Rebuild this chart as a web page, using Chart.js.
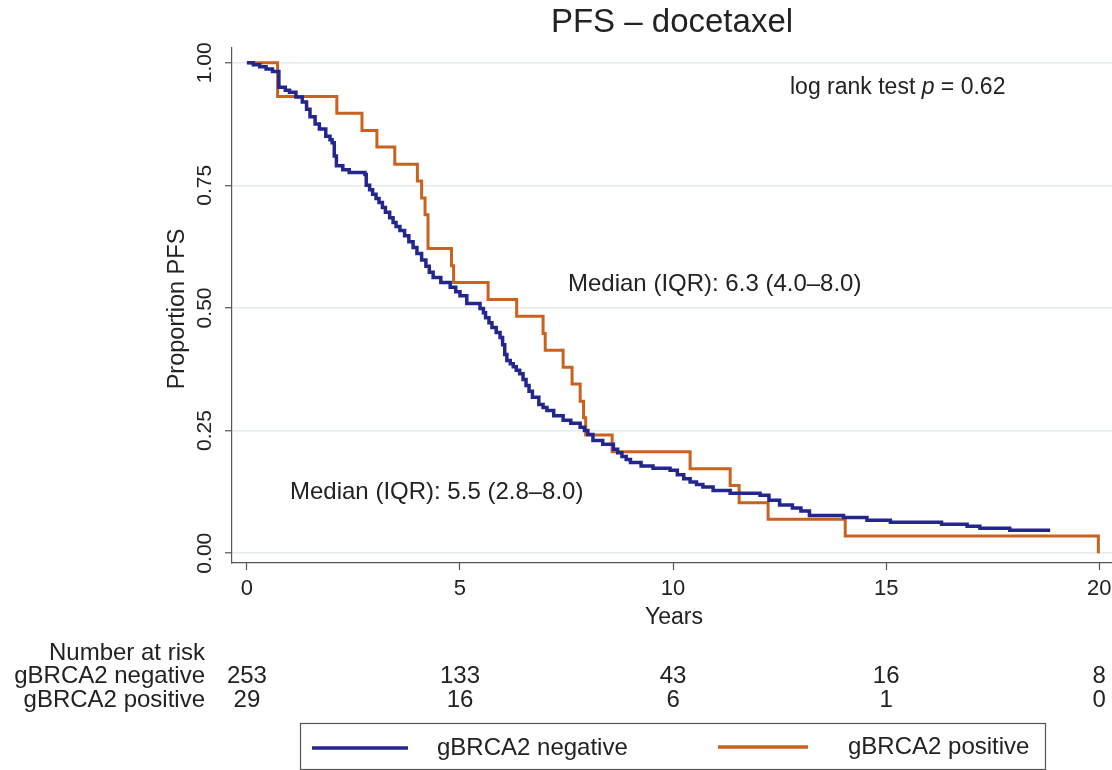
<!DOCTYPE html>
<html lang="en">
<head>
<meta charset="UTF-8">
<title>PFS - docetaxel</title>
<script src="https://cdn.jsdelivr.net/npm/chart.js@4"></script>
<style>
  html, body { margin: 0; padding: 0; background: #fff; }
  canvas { display: block; }
</style>
</head>
<body>
<canvas id="km" width="1112" height="770"></canvas>
<script>
// Kaplan-Meier steps (years, proportion free of progression)
const negYears = [0, 0.15, 0.3, 0.45, 0.6, 0.75, 0.9, 1.0, 1.15, 1.3, 1.4, 1.48, 1.6, 1.7, 1.85, 1.95, 2.0, 2.05, 2.1, 2.25, 2.4, 2.77, 2.8, 2.88, 2.95,
  3.03, 3.1, 3.18, 3.25, 3.35, 3.43, 3.5, 3.59, 3.7, 3.8, 3.9, 3.99, 4.1, 4.2, 4.28, 4.37, 4.55, 4.77, 4.9, 5.0, 5.16, 5.47, 5.55, 5.6, 5.68, 5.75,
  5.85, 5.94, 6.0, 6.05, 6.1, 6.18, 6.25, 6.32, 6.4, 6.48, 6.55, 6.62, 6.7, 6.85, 6.95, 7.04, 7.2, 7.42, 7.6, 7.82, 7.92, 8.0, 8.12, 8.35, 8.6,
  8.7, 8.8, 8.9, 9.0, 9.25, 9.53, 9.93, 10.1, 10.25, 10.4, 10.55, 10.7, 10.94, 11.34, 12.04, 12.25, 12.5, 12.8, 13.0, 13.2, 14.0, 14.55, 15.1,
  16.3, 16.9, 17.2, 17.9, 18.85];
const negPFS = [1.0, 0.996, 0.992, 0.987, 0.982, 0.95, 0.944, 0.94, 0.93, 0.92, 0.905, 0.89, 0.875, 0.865, 0.85, 0.843, 0.837, 0.81, 0.79, 0.782, 0.776, 0.772, 0.75, 0.741, 0.732,
  0.723, 0.715, 0.705, 0.695, 0.684, 0.674, 0.666, 0.658, 0.647, 0.635, 0.623, 0.611, 0.598, 0.585, 0.573, 0.562, 0.552, 0.542, 0.533, 0.525, 0.509, 0.499, 0.49, 0.48, 0.47, 0.46,
  0.45, 0.44, 0.425, 0.405, 0.393, 0.386, 0.38, 0.373, 0.366, 0.354, 0.342, 0.33, 0.318, 0.303, 0.297, 0.291, 0.28, 0.271, 0.265, 0.257, 0.25, 0.242, 0.23, 0.222, 0.212,
  0.205, 0.197, 0.191, 0.185, 0.178, 0.173, 0.169, 0.16, 0.152, 0.145, 0.14, 0.135, 0.128, 0.122, 0.118, 0.108, 0.098, 0.092, 0.086, 0.077, 0.073, 0.067, 0.063,
  0.059, 0.055, 0.051, 0.047, 0.047];

const posYears = [0, 0.72, 2.11, 2.7, 3.05, 3.47, 4.0, 4.1, 4.18, 4.25, 4.8, 4.85, 5.66, 6.33, 6.95, 7.0, 7.42, 7.63,
  7.82, 7.9, 7.95, 8.57, 10.4, 11.34, 11.55, 12.23, 14.04, 19.98];
const posPFS = [1.0, 0.931, 0.897, 0.862, 0.828, 0.793, 0.759, 0.724, 0.690, 0.621, 0.586, 0.552, 0.517, 0.483, 0.448, 0.414, 0.379, 0.345,
  0.310, 0.276, 0.241, 0.207, 0.172, 0.138, 0.103, 0.069, 0.035, 0.0];

const xTicks = [0, 5, 10, 15, 20];
const yTicks = [0, 0.25, 0.5, 0.75, 1];
const yTickLabels = ['0.00', '0.25', '0.50', '0.75', '1.00'];

const groups = ['gBRCA2 negative', 'gBRCA2 positive'];
const riskNeg = [253, 133, 43, 16, 8];
const riskPos = [29, 16, 6, 1, 0];

const BLUE = '#23268f';
const ORANGE = '#c8621e';
const FONT = '"Liberation Sans", Arial, sans-serif';

const toPoints = (xs, ys) => xs.map((t, i) => ({ x: t, y: ys[i] }));

const annotate = {
  id: 'annotate',
  afterDraw(chart) {
    const { ctx, scales: { x, y } } = chart;
    ctx.save();
    ctx.fillStyle = '#222';

    // title
    ctx.font = '33px ' + FONT;
    ctx.textAlign = 'center';
    ctx.textBaseline = 'middle';
    ctx.fillText('PFS \u2013 docetaxel', 672, 23);

    // y tick labels, rotated
    ctx.font = '21px ' + FONT;
    yTicks.forEach((v, i) => {
      ctx.save();
      ctx.translate(205, y.getPixelForValue(v));
      ctx.rotate(-Math.PI / 2);
      ctx.fillText(yTickLabels[i], 0, 0);
      ctx.restore();
    });

    // y title
    ctx.save();
    ctx.font = '23.5px ' + FONT;
    ctx.translate(178, 309);
    ctx.rotate(-Math.PI / 2);
    ctx.fillText('Proportion PFS', 0, 0);
    ctx.restore();

    // x tick labels + title
    ctx.font = '22px ' + FONT;
    xTicks.forEach(t => ctx.fillText(String(t), x.getPixelForValue(t), 589));
    ctx.font = '23px ' + FONT;
    ctx.fillText('Years', 674, 618);

    // annotations
    ctx.textAlign = 'left';
    ctx.font = '23px ' + FONT;
    let px = 790;
    ctx.fillText('log rank test ', px, 88);
    px += ctx.measureText('log rank test ').width;
    ctx.font = 'italic 23px ' + FONT;
    ctx.fillText('p', px, 88);
    px += ctx.measureText('p').width;
    ctx.font = '23px ' + FONT;
    ctx.fillText(' = 0.62', px, 88);

    ctx.font = '24px ' + FONT;
    ctx.fillText('Median (IQR): 6.3 (4.0\u20138.0)', 568, 284);
    ctx.fillText('Median (IQR): 5.5 (2.8\u20138.0)', 290, 492);

    // number at risk table
    ctx.font = '24px ' + FONT;
    ctx.textAlign = 'right';
    ctx.fillText('Number at risk', 205, 653);
    ctx.fillText(groups[0], 205, 676);
    ctx.fillText(groups[1], 205, 700);
    ctx.textAlign = 'center';
    xTicks.forEach((t, i) => {
      const cx = x.getPixelForValue(t);
      ctx.fillText(String(riskNeg[i]), cx, 676);
      ctx.fillText(String(riskPos[i]), cx, 700);
    });

    // legend box
    ctx.strokeStyle = '#555';
    ctx.lineWidth = 1.2;
    ctx.strokeRect(300.5, 723.5, 745, 46);
    ctx.lineWidth = 3.5;
    ctx.strokeStyle = BLUE;
    ctx.beginPath(); ctx.moveTo(312, 748); ctx.lineTo(408, 748); ctx.stroke();
    ctx.strokeStyle = ORANGE;
    ctx.beginPath(); ctx.moveTo(718, 747); ctx.lineTo(808, 747); ctx.stroke();
    ctx.textAlign = 'left';
    ctx.font = '24px ' + FONT;
    ctx.fillText(groups[0], 437, 748);
    ctx.fillText(groups[1], 848, 747);

    ctx.restore();
  }
};

new Chart(document.getElementById('km'), {
  type: 'line',
  data: {
    datasets: [
      { label: groups[0], data: toPoints(negYears, negPFS), borderColor: BLUE, borderWidth: 3.5, stepped: true, pointRadius: 0, fill: false },
      { label: groups[1], data: toPoints(posYears, posPFS), borderColor: ORANGE, borderWidth: 3, stepped: true, pointRadius: 0, fill: false }
    ]
  },
  options: {
    responsive: false,
    animation: false,
    devicePixelRatio: 1,
    layout: { padding: { left: 225, right: 0, top: 48, bottom: 200 } },
    plugins: { legend: { display: false }, tooltip: { enabled: false } },
    scales: {
      x: {
        type: 'linear',
        min: -0.35,
        max: 20.3,
        afterBuildTicks: s => { s.ticks = xTicks.map(v => ({ value: v })); },
        ticks: { display: false },
        grid: { drawOnChartArea: false, drawTicks: true, tickLength: 7, tickColor: '#555', tickWidth: 1.2 },
        border: { display: true, color: '#555', width: 1.2 }
      },
      y: {
        type: 'linear',
        min: -0.02,
        max: 1.03,
        afterBuildTicks: s => { s.ticks = yTicks.map(v => ({ value: v })); },
        ticks: { display: false },
        grid: { color: '#e4ecf0', lineWidth: 1.5, drawTicks: true, tickLength: 7, tickColor: '#555', tickWidth: 1.2 },
        border: { display: true, color: '#555', width: 1.2 }
      }
    }
  },
  plugins: [annotate]
});
</script>
</body>
</html>
